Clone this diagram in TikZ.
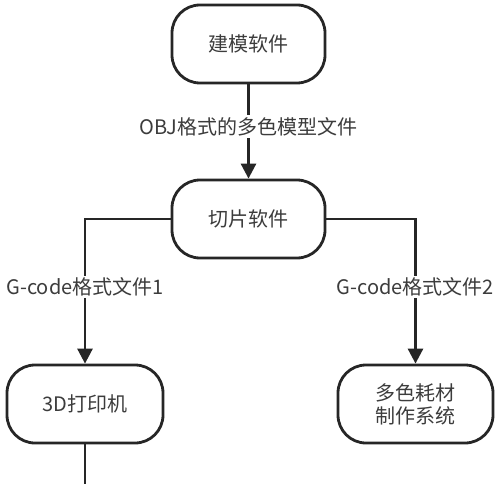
\documentclass[tikz,border=0pt]{standalone}
\usepackage{fontspec}
\setmainfont{Noto Sans CJK SC}
\usetikzlibrary{arrows.meta}
\definecolor{linegray}{HTML}{262626}
\definecolor{textgray}{HTML}{3C3C3C}
\tikzset{
  stepbox/.style={draw=linegray, line width=2.8pt, rounded corners=28pt,
    minimum width=153pt, minimum height=78pt, align=center, text=textgray,
    font=\fontsize{20}{23}\selectfont},
  flow/.style={draw=linegray, line width=2.8pt, -{Triangle[width=15pt,length=15pt]}},
  filelabel/.style={fill=white, text=textgray, inner sep=2pt,
    font=\fontsize{20}{24}\selectfont}
}
\begin{document}
\begin{tikzpicture}[x=1pt, y=-1pt]
\useasboundingbox (0,0) rectangle (500,484);
%% boxes
\node [stepbox] (model) at (248.5,44) {建模软件};
\node [stepbox] (slicer) at (248.5,219) {切片软件};
\node [stepbox, minimum width=156pt] (printer) at (85,404) {3D打印机};
\node [stepbox, minimum width=155pt] (filament) at (415.5,404) {多色耗材\\制作系统};
\coordinate (exit) at (85,484);
%% arrows
\draw [flow] (model) -- node [filelabel, pos=0.45] (objfile) {OBJ格式的多色模型文件} (slicer);
\draw [flow] (slicer.west) -| node [filelabel, pos=0.735] (gcode1) {G-code格式文件1} (printer.north);
\draw [flow] (slicer.east) -| node [filelabel, pos=0.735] (gcode2) {G-code格式文件2} (filament.north);
\draw [draw=linegray, line width=2.8pt] (printer.south) -- (exit);
\end{tikzpicture}
\end{document}
